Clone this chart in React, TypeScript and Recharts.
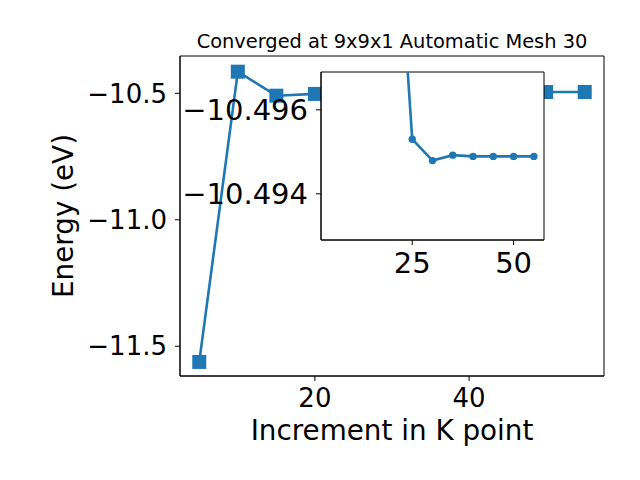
import { LineChart, Line, XAxis, YAxis, CartesianGrid, Label, ReferenceArea } from 'recharts';

const kPoints = [5, 10, 15, 20, 25, 30, 35, 40, 45, 50, 55];
const energies = [-11.562, -10.4146, -10.5095, -10.5025, -10.4953, -10.49479, -10.49492, -10.49489, -10.49489, -10.49489, -10.49489];

// the zoomed inset only plots from the 20 k-point onwards
const insetStart = 3;

const mainXTicks = [20, 40];
const mainYTicks = [-11.5, -11.0, -10.5];
const insetXTicks = [25, 50];
const insetYTicks = [-10.496, -10.494];

const xRange: [number, number] = [2.5, 57.5];
const mainYRange: [number, number] = [-11.6176, -10.3526];
const insetYRange: [number, number] = [-10.4969, -10.4929];

const BLUE = '#1f77b4';
const FONT = '"DejaVu Sans", sans-serif';

const data = kPoints.map((k, i) => ({ k, e: energies[i] }));
const insetData = data.slice(insetStart);

const minus = (s: string) => s.replace('-', '\u2212');

const SquareDot = (p: any) => (
  <rect key={`sq-${p.index}`} x={p.cx - 7} y={p.cy - 7} width={14} height={14} fill={BLUE} />
);

export default function App() {
  return (
    <div style={{ position: 'absolute', left: 0, top: 0, width: 640, height: 480, background: '#fff', fontFamily: FONT }}>
      {/* main axes */}
      <div style={{ position: 'absolute', left: 0, top: 0 }}>
        <LineChart width={640} height={480} data={data} margin={{ top: 56, right: 36, bottom: 0, left: 0 }}>
          <XAxis
            dataKey="k"
            type="number"
            domain={xRange}
            ticks={mainXTicks}
            allowDataOverflow
            height={104}
            stroke="#000"
            tickSize={5}
            tickMargin={8}
            tick={{ fill: '#000', fontSize: 26, fontFamily: FONT }}
          >
            <Label value="Increment in K point" position="insideBottom" offset={40} style={{ fill: '#000', fontSize: 27.8, fontFamily: FONT }} />
          </XAxis>
          <YAxis
            type="number"
            domain={mainYRange}
            ticks={mainYTicks}
            allowDataOverflow
            width={180}
            stroke="#000"
            tickSize={5}
            tickMargin={8}
            tickFormatter={(v: number) => minus(v.toFixed(1))}
            tick={{ fill: '#000', fontSize: 26, fontFamily: FONT }}
          >
            <Label value="Energy (eV)" angle={-90} position="insideLeft" offset={63} style={{ fill: '#000', fontSize: 27.8, fontFamily: FONT, textAnchor: 'middle' }} />
          </YAxis>
          <ReferenceArea x1={xRange[0]} x2={xRange[1]} y1={mainYRange[0]} y2={mainYRange[1]} fill="none" stroke="#000" strokeWidth={1} fillOpacity={0} />
          <Line
            dataKey="e"
            stroke={BLUE}
            strokeWidth={2.6}
            dot={SquareDot}
            activeDot={false}
            isAnimationActive={false}
          />
        </LineChart>
      </div>

      {/* title */}
      <svg width={640} height={480} style={{ position: 'absolute', left: 0, top: 0, pointerEvents: 'none' }}>
        <text x={392} y={48.3} textAnchor="middle" fontSize={19.4} fontFamily={FONT} fill="#000">
          Converged at 9x9x1 Automatic Mesh 30
        </text>
      </svg>

      {/* inset axes */}
      <div style={{ position: 'absolute', left: 0, top: 0 }}>
        <LineChart width={640} height={480} data={insetData} margin={{ top: 72, right: 96, bottom: 0, left: 0 }}>
          <CartesianGrid fill="#fff" horizontal={false} vertical={false} />
          <XAxis
            dataKey="k"
            type="number"
            domain={xRange}
            ticks={insetXTicks}
            allowDataOverflow
            height={240}
            stroke="#000"
            tickSize={5}
            tickMargin={7}
            tick={{ fill: '#000', fontSize: 29, fontFamily: FONT }}
          />
          <YAxis
            type="number"
            reversed
            domain={insetYRange}
            ticks={insetYTicks}
            allowDataOverflow
            width={321}
            stroke="#000"
            tickSize={5}
            tickMargin={8}
            tickFormatter={(v: number) => minus(v.toFixed(3))}
            tick={{ fill: '#000', fontSize: 29, fontFamily: FONT }}
          />
          <ReferenceArea x1={xRange[0]} x2={xRange[1]} y1={insetYRange[0]} y2={insetYRange[1]} fill="none" stroke="#000" strokeWidth={1} fillOpacity={0} />
          <Line
            dataKey="e"
            stroke={BLUE}
            strokeWidth={2.6}
            dot={{ r: 3.7, fill: BLUE, stroke: 'none' }}
            activeDot={false}
            isAnimationActive={false}
          />
        </LineChart>
      </div>
    </div>
  );
}
